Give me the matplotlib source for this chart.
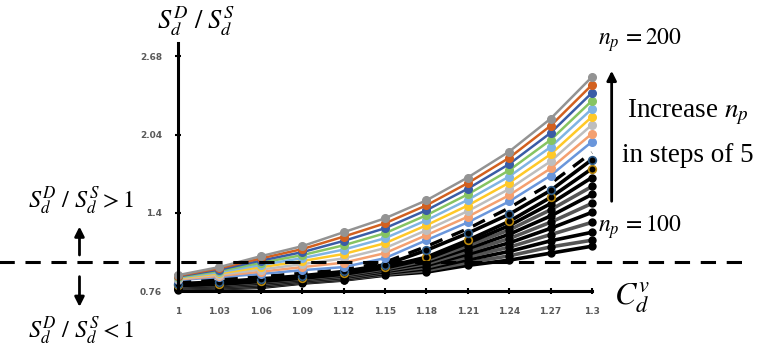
import numpy as np
import matplotlib.pyplot as plt

plt.rcParams['mathtext.fontset'] = 'stix'

# coefficient of variation C_d^v (x axis)
cv = [1.0, 1.03, 1.06, 1.09, 1.12, 1.15, 1.18, 1.21, 1.24, 1.27, 1.3]
cv_labels = ['1', '1.03', '1.06', '1.09', '1.12', '1.15', '1.18', '1.21', '1.24', '1.27', '1.3']

# S_d^D / S_d^S for n_p = 200 ... 100 in steps of 5
np200 = [0.890, 0.956, 1.045, 1.127, 1.241, 1.355, 1.502, 1.689, 1.901, 2.170, 2.512]
np195 = [0.885, 0.946, 1.027, 1.103, 1.205, 1.314, 1.461, 1.643, 1.850, 2.112, 2.447]
np190 = [0.880, 0.935, 1.009, 1.078, 1.170, 1.274, 1.421, 1.597, 1.799, 2.054, 2.382]
np185 = [0.875, 0.925, 0.991, 1.054, 1.134, 1.233, 1.380, 1.551, 1.748, 1.996, 2.317]
np180 = [0.870, 0.915, 0.973, 1.029, 1.099, 1.192, 1.339, 1.506, 1.697, 1.938, 2.251]
np175 = [0.865, 0.905, 0.955, 1.005, 1.063, 1.151, 1.298, 1.460, 1.646, 1.879, 2.186]
np170 = [0.860, 0.894, 0.936, 0.980, 1.027, 1.111, 1.258, 1.414, 1.595, 1.821, 2.121]
np165 = [0.855, 0.884, 0.918, 0.956, 0.992, 1.070, 1.217, 1.368, 1.544, 1.763, 2.048]
np160 = [0.850, 0.874, 0.900, 0.931, 0.956, 1.029, 1.176, 1.322, 1.493, 1.705, 1.982]
np155 = [0.835, 0.858, 0.878, 0.905, 0.935, 0.995, 1.125, 1.270, 1.440, 1.640, 1.893]
np150 = [0.820, 0.835, 0.860, 0.885, 0.920, 0.975, 1.094, 1.233, 1.388, 1.583, 1.836]
np145 = [0.810, 0.820, 0.845, 0.870, 0.905, 0.956, 1.037, 1.176, 1.330, 1.526, 1.762]
np140 = [0.806, 0.815, 0.839, 0.865, 0.898, 0.949, 1.023, 1.153, 1.295, 1.475, 1.689]
np135 = [0.801, 0.811, 0.833, 0.860, 0.891, 0.941, 1.010, 1.130, 1.260, 1.425, 1.616]
np130 = [0.797, 0.806, 0.827, 0.855, 0.885, 0.934, 0.996, 1.107, 1.224, 1.374, 1.551]
np125 = [0.792, 0.802, 0.820, 0.850, 0.878, 0.927, 0.983, 1.084, 1.189, 1.323, 1.477]
np120 = [0.788, 0.798, 0.814, 0.845, 0.872, 0.919, 0.969, 1.061, 1.154, 1.273, 1.404]
np115 = [0.783, 0.793, 0.808, 0.840, 0.865, 0.912, 0.955, 1.039, 1.119, 1.222, 1.322]
np110 = [0.779, 0.789, 0.802, 0.835, 0.859, 0.905, 0.942, 1.016, 1.084, 1.171, 1.241]
np105 = [0.774, 0.784, 0.796, 0.830, 0.854, 0.897, 0.928, 0.993, 1.048, 1.121, 1.176]
np100 = [0.770, 0.780, 0.790, 0.825, 0.850, 0.890, 0.915, 0.970, 1.013, 1.070, 1.127]

yticks = [0.76, 1.4, 2.04, 2.68]
ytick_labels = ['0.76', '1.4', '2.04', '2.68']

colored = [np200, np195, np190, np185, np180, np175, np170, np165, np160]
colored_c = ['#939393', '#D2601F', '#3A5CA6', '#86C462', '#80B4E3',
             '#FFC928', '#BEBEBE', '#F4A070', '#6A96DB']
blacks = [np140, np135, np130, np125, np120, np115, np110, np105, np100]

fig = plt.figure(figsize=(7.57, 3.58), dpi=100)
ax = fig.add_axes([0.235, 0.187, 0.547, 0.693])

# low n_p first so the coloured ones sit on top
for i, s in enumerate(blacks[::-1]):
    lc = 'black' if i % 2 == 0 else '#555555'
    ax.plot(cv, s, color=lc, lw=2.6, marker='o', ms=5, mfc='black', mec='black',
            clip_on=False, zorder=3)
ax.plot(cv, np145, color='black', lw=2.6, marker='o', ms=5.5, mfc='black',
        mec='#B8860B', mew=1.2, clip_on=False, zorder=3)
ax.plot(cv, np150, color='black', lw=2.6, marker='o', ms=5.5, mfc='black',
        mec='#2E5C8A', mew=1.2, clip_on=False, zorder=3)
ax.plot(cv, np155, color='black', lw=2.4, ls=(0, (4, 3)), clip_on=False, zorder=3)
for s, c in zip(colored[::-1], colored_c[::-1]):
    ax.plot(cv, s, color=c, lw=1.8, marker='o', ms=5.5, mfc=c, mec=c,
            clip_on=False, zorder=4)

ax.set_xlim(1.0, 1.3)
ax.set_ylim(0.76, 2.79)
ax.set_xticks(cv)
ax.set_xticklabels(cv_labels)
ax.set_yticks(yticks)
ax.set_yticklabels(ytick_labels)
for lab in ax.get_xticklabels() + ax.get_yticklabels():
    lab.set_fontsize(6.5)
    lab.set_fontweight('bold')
    lab.set_color('#595959')
ax.tick_params(axis='x', direction='inout', length=5, width=1.5, pad=9)
ax.tick_params(axis='y', direction='inout', length=5, width=1.5, pad=9)
for side in ['top', 'right']:
    ax.spines[side].set_visible(False)
for side in ['left', 'bottom']:
    ax.spines[side].set_linewidth(2.2)
    ax.spines[side].set_zorder(6)

# threshold S_d^D / S_d^S = 1 across the whole figure
ax.axhline(1.0, xmin=-0.55, xmax=1.37, color='black', lw=2.2,
           ls=(0, (5, 3.5)), clip_on=False, zorder=5)

ratio = r'$S_d^D\ /\ S_d^S$'
fig.text(0.259, 0.94, ratio, fontsize=19, ha='center', va='center')
fig.text(0.107, 0.44, r'$S_d^D\ /\ S_d^S>1$', fontsize=17.5, ha='center', va='center')
fig.text(0.107, 0.075, r'$S_d^D\ /\ S_d^S<1$', fontsize=17.5, ha='center', va='center')
fig.text(0.835, 0.17, r'$C_d^v$', fontsize=23, ha='center', va='center')

fig.text(0.846, 0.888, r'$n_p\,=200$', fontsize=17, ha='center', va='center')
fig.text(0.846, 0.367, r'$n_p\,=100$', fontsize=17, ha='center', va='center')
fig.text(0.908, 0.685, r'Increase $n_p$', fontsize=19.5, ha='center', va='center',
         family='Liberation Serif')
fig.text(0.908, 0.567, 'in steps of 5', fontsize=19.5, ha='center', va='center',
         family='Liberation Serif')

arrow = dict(arrowstyle='-|>', color='black', lw=2, mutation_scale=14)
fig.patches.append(plt.matplotlib.patches.FancyArrowPatch(
    (0.808, 0.43), (0.808, 0.81), transform=fig.transFigure, **arrow))
fig.patches.append(plt.matplotlib.patches.FancyArrowPatch(
    (0.105, 0.28), (0.105, 0.375), transform=fig.transFigure, **arrow))
fig.patches.append(plt.matplotlib.patches.FancyArrowPatch(
    (0.105, 0.235), (0.105, 0.135), transform=fig.transFigure, **arrow))

fig.savefig('out.png', dpi=100)
